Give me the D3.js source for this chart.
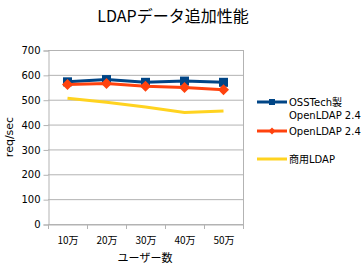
<!DOCTYPE html>
<html><head><meta charset="utf-8">
<script src="https://cdn.jsdelivr.net/npm/d3@7"></script>
<style>body{margin:0;background:#fff}svg{display:block}text{font-family:"DejaVu Sans","Noto Sans CJK JP",sans-serif;fill:#000}</style>
</head><body><svg id="c" width="361" height="271"></svg>
<script>
const categories = ["10万","20万","30万","40万","50万"];
const osstech = [572, 581, 570, 575, 570];
const openldap = [561, 565, 554, 549, 540];
const commercial = [506, 490, 471, 449, 455];
const yTicks = [0,100,200,300,400,500,600,700];
const seriesNames = [["OSSTech製","OpenLDAP 2.4"],["OpenLDAP 2.4"],["商用LDAP"]];
const colors = ["#004586","#ff420e","#ffd320"];

const svg = d3.select("#c");
const m = {l:48, r:243, t:50, b:224};
const x = d3.scaleBand().domain(categories).range([m.l, m.r]);
const y = d3.scaleLinear().domain([0,700]).range([m.b, m.t]);

svg.append("g").selectAll("line").data(yTicks).join("line")
  .attr("x1", m.l).attr("x2", m.r).attr("y1", d=>y(d)+0.5).attr("y2", d=>y(d)+0.5)
  .attr("stroke","#b3b3b3").attr("stroke-width",1);
svg.append("line").attr("x1",m.r+0.5).attr("x2",m.r+0.5).attr("y1",m.t).attr("y2",m.b)
  .attr("stroke","#b3b3b3");

const ya = svg.append("g").attr("transform",`translate(${m.l+0.5},0.5)`)
  .call(d3.axisLeft(y).tickValues(yTicks).tickSize(5).tickPadding(3));
ya.select(".domain").attr("stroke","#b3b3b3");
ya.selectAll(".tick line").attr("stroke","#b3b3b3");
ya.selectAll("text").attr("font-size",10).style("font-family","DejaVu Sans");

const xa = svg.append("g").attr("transform",`translate(0.5,${m.b+0.5})`)
  .call(d3.axisBottom(x).tickSize(0).tickPadding(12));
xa.select(".domain").attr("stroke","#b3b3b3");
xa.selectAll(".tick line").remove();
xa.selectAll("text").attr("font-size",10).style("font-family","'Noto Sans CJK JP'");
const edges = categories.map(c=>x(c)).concat([m.r]);
svg.append("g").selectAll("line").data(edges).join("line")
  .attr("x1",d=>Math.round(d)+0.5).attr("x2",d=>Math.round(d)+0.5)
  .attr("y1",m.b).attr("y2",m.b+5).attr("stroke","#b3b3b3");

const cx = c => x(c) + x.bandwidth()/2;
const line = d3.line().x((d,i)=>cx(categories[i])).y(d=>y(d));
const all = [osstech, openldap, commercial];

[2,0].forEach(k=>{
  svg.append("path").datum(all[k]).attr("d",line).attr("fill","none")
    .attr("stroke",colors[k]).attr("stroke-width",3);
});
svg.append("g").selectAll("rect").data(osstech).join("rect")
  .attr("x",(d,i)=>cx(categories[i])-4.5).attr("y",d=>y(d)-4.5)
  .attr("width",9).attr("height",9).attr("fill",colors[0]);
svg.append("path").datum(all[1]).attr("d",line).attr("fill","none")
  .attr("stroke",colors[1]).attr("stroke-width",3);
svg.append("g").selectAll("path.dm").data(openldap).join("path")
  .attr("d",(d,i)=>{const px=cx(categories[i]),py=y(d);return `M${px},${py-5.5}L${px+5.5},${py}L${px},${py+5.5}L${px-5.5},${py}Z`;})
  .attr("fill",colors[1]);

svg.append("text").attr("x",173).attr("y",22).attr("text-anchor","middle")
  .attr("font-size",16).style("font-family","'Noto Sans CJK JP'").text("LDAPデータ追加性能");
svg.append("text").attr("transform","translate(13,137) rotate(-90)").attr("text-anchor","middle")
  .attr("font-size",11).style("font-family","DejaVu Sans").text("req/sec");
svg.append("text").attr("x",145).attr("y",262).attr("text-anchor","middle")
  .attr("font-size",11).style("font-family","'Noto Sans CJK JP'").text("ユーザー数");

const legY = [102, 131, 159];
const lg = svg.append("g");
seriesNames.forEach((names,k)=>{
  const ly = legY[k];
  lg.append("line").attr("x1",257).attr("x2",287).attr("y1",ly).attr("y2",ly)
    .attr("stroke",colors[k]).attr("stroke-width",3);
  if(k===0) lg.append("rect").attr("x",269).attr("y",ly-3).attr("width",6).attr("height",6).attr("fill",colors[0]);
  if(k===1) lg.append("path").attr("d",`M272,${ly-3.5}L275.5,${ly}L272,${ly+3.5}L268.5,${ly}Z`).attr("fill",colors[1]);
  names.forEach((n,j)=>{
    lg.append("text").attr("x",289).attr("y",ly+4+j*13).attr("font-size",10)
      .style("font-family","'DejaVu Sans','Noto Sans CJK JP'").text(n);
  });
});
</script></body></html>
